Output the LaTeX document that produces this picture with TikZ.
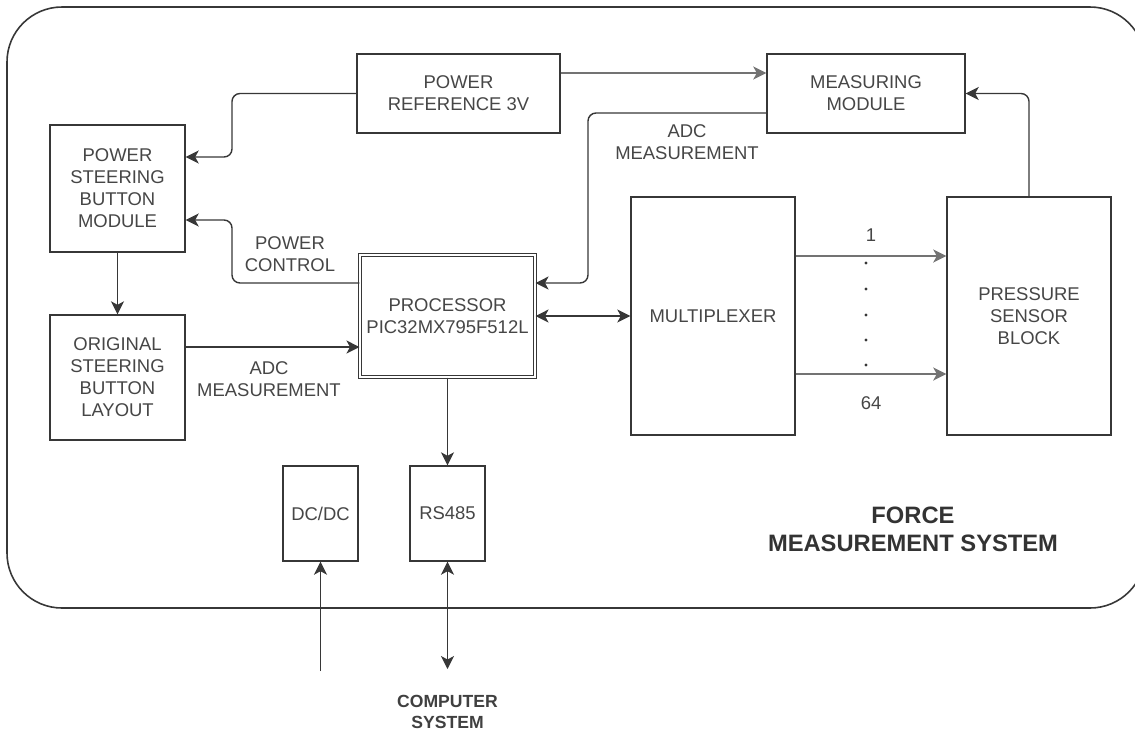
\documentclass[tikz,border=0pt]{standalone}
\usepackage{fontspec}
\setmainfont{Liberation Sans}
\usepackage{xcolor}
\usepackage{tikz}
\usetikzlibrary{positioning, calc, arrows.meta}
\definecolor{lineColor}{RGB}{55,55,55}
\definecolor{txtColor}{RGB}{70,70,70}
\tikzset{
    block/.style={
        draw=lineColor,
        line width=0.8pt,
        fill=white,
        align=center,
        text=txtColor,
        font=\fontsize{10.5}{12.5}\selectfont,
        inner sep=2pt
    },
    cpu/.style={
        block,
        double,
        double distance=1.6pt,
        line width=0.6pt
    },
    ptr/.style={
        -{Stealth[length=2.6mm,width=2.6mm,inset=0.7mm]},
        draw=lineColor,
        line width=0.8pt,
        rounded corners=1.6mm
    },
    ptrBoth/.style={
        ptr,
        {Stealth[length=2.6mm,width=2.6mm,inset=0.7mm]}-{Stealth[length=2.6mm,width=2.6mm,inset=0.7mm]}
    },
    bus/.style={
        ptr,
        draw=black!55,
        line width=1.3pt
    },
    lbl/.style={
        align=center,
        text=txtColor,
        font=\fontsize{10.5}{12.5}\selectfont
    }
}

\begin{document}
\begin{tikzpicture}
    \useasboundingbox (0,0) rectangle (22.7,-14.68);
    \begin{scope}
        \clip (0,0) rectangle (22.7,-14.68);
        \draw[lineColor, line width=0.9pt, rounded corners=1.1cm] (0.14,-0.14) rectangle (22.9,-12.16);
    \end{scope}

    \node[block, minimum width=4.06cm, minimum height=1.58cm] (pref) at (9.17,-1.87) {POWER\\REFERENCE 3V};
    \node[block, minimum width=3.96cm, minimum height=1.58cm] (meas) at (17.32,-1.87) {MEASURING\\MODULE};
    \node[block, minimum width=2.70cm, minimum height=2.54cm] (psbm) at (2.35,-3.77) {POWER\\STEERING\\BUTTON\\MODULE};
    \node[block, minimum width=2.70cm, minimum height=2.50cm] (osbl) at (2.35,-7.55) {ORIGINAL\\STEERING\\BUTTON\\LAYOUT};
    \node[cpu, minimum width=3.50cm, minimum height=2.44cm] (proc) at (8.95,-6.32) {PROCESSOR\\PIC32MX795F512L};
    \node[block, minimum width=3.28cm, minimum height=4.76cm] (mux) at (14.26,-6.32) {MULTIPLEXER};
    \node[block, minimum width=3.28cm, minimum height=4.76cm] (psens) at (20.58,-6.32) {PRESSURE\\SENSOR\\BLOCK};
    \node[block, minimum width=1.5cm, minimum height=1.9cm] (dcdc) at (6.41,-10.27) {DC/DC};
    \node[block, minimum width=1.5cm, minimum height=1.9cm] (rs) at (8.95,-10.27) {RS485};

    \coordinate (pwrin) at (6.41,-13.42);
    \coordinate (comp) at (8.95,-13.38);

    \draw[ptr] (pref.west) -- (4.64,-1.87) |- ([yshift=0.63cm]psbm.east);
    \draw[ptr] ([yshift=0.66cm]proc.west) -- (4.64,-5.66) |- ([yshift=-0.63cm]psbm.east);
    \node[lbl] (pwrctl) at (5.8,-5.08) {POWER\\CONTROL};
    \draw[bus] ([yshift=0.41cm]pref.east) -- ([yshift=0.41cm]meas.west);
    \draw[ptr] ([yshift=-0.39cm]meas.west) -- (11.76,-2.26) |- ([yshift=0.66cm]proc.east);
    \node[lbl] (adcTop) at (13.74,-2.84) {ADC\\MEASUREMENT};
    \draw[ptr] (psens.north) |- (meas.east);
    \draw[ptrBoth] (proc.east) -- (mux.west);

    \draw[bus] ([yshift=1.2cm]mux.east) -- ([yshift=1.2cm]psens.west) node[lbl, midway, above=4pt] (ch1) {1};
    \draw[bus] ([yshift=-1.16cm]mux.east) -- ([yshift=-1.16cm]psens.west) node[lbl, midway, below=9pt] (ch64) {64};
    \foreach \y in {-5.26,-5.78,-6.30,-6.80,-7.30} {
        \fill[lineColor] (17.32,\y) circle (0.9pt);
    }

    \draw[ptr] (psbm) -- (osbl);
    \draw[ptr] ([yshift=0.61cm]osbl.east) -- ([yshift=0.61cm]osbl.east -| proc.west);
    \node[lbl] (adcLeft) at (5.38,-7.58) {ADC\\MEASUREMENT};
    \draw[ptr] (proc) -- (rs);
    \draw[ptr] (pwrin) -- (dcdc);
    \draw[ptrBoth] (rs) -- (comp);
    \node[lbl, text=black!75, font=\fontsize{10}{12}\selectfont\bfseries] (compsys) at (8.95,-14.24) {COMPUTER\\SYSTEM};

    \node[lbl, text=black!80, font=\fontsize{13.5}{16}\selectfont\bfseries] (title) at (18.26,-10.58) {FORCE\\MEASUREMENT SYSTEM};
\end{tikzpicture}
\end{document}
